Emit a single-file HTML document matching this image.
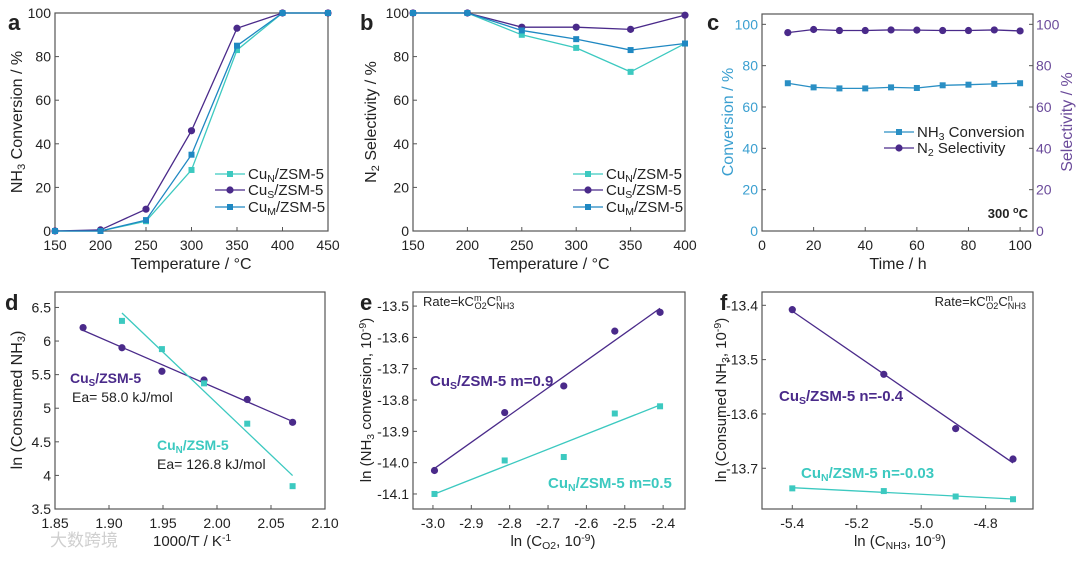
<!DOCTYPE html>
<html><head><meta charset="utf-8"><style>
body{margin:0;background:#fff;}
svg{display:block;font-family:"Liberation Sans","Noto Sans CJK SC",sans-serif;}
</style></head><body>
<svg id="fig" width="1080" height="561" viewBox="0 0 1080 561"></svg>
<script>
// ---- data ----
const aTemps=[150,200,250,300,350,400,450];
const aCuN=[0,0,4.5,28,83,100,100];
const aCuS=[0,0.5,10,46,93,100,100];
const aCuM=[0,0,5,35,85,100,100];
const bTemps=[150,200,250,300,350,400];
const bCuN=[100,100,90,84,73,86];
const bCuS=[100,100,93.5,93.5,92.5,99];
const bCuM=[100,100,92,88,83,86];
const cTime=[10,20,30,40,50,60,70,80,90,100];
const cConv=[71.5,69.5,69,69,69.5,69.2,70.5,70.8,71.2,71.5];
const cSel=[96,97.5,97,97,97.3,97.2,97,97,97.3,96.8];
const dSx=[1.876,1.912,1.949,1.988,2.028,2.070];
const dSy=[6.2,5.9,5.55,5.42,5.13,4.79];
const dNx=[1.912,1.949,1.988,2.028,2.070];
const dNy=[6.3,5.88,5.37,4.77,3.84];
const eX=[-2.996,-2.813,-2.659,-2.526,-2.408];
const eS=[-14.025,-13.84,-13.755,-13.58,-13.52];
const eN=[-14.10,-13.993,-13.982,-13.843,-13.82];
const fX=[-5.4,-5.116,-4.893,-4.715];
const fS=[-13.408,-13.527,-13.627,-13.683];
const fN=[-13.737,-13.742,-13.752,-13.757];

const NS="http://www.w3.org/2000/svg";
const svg=document.getElementById('fig');
const PUR="#4a2a8a",CY="#3cc9c0",BL="#1f88c2";
function el(tag,attrs,parent){const e=document.createElementNS(NS,tag);for(const k in attrs)e.setAttribute(k,attrs[k]);(parent||svg).appendChild(e);return e;}
function txt(x,y,html,opt,parent){opt=opt||{};const t=el('text',{x:x,y:y,'font-size':opt.size||13,fill:opt.fill||'#222','text-anchor':opt.anchor||'start','font-weight':opt.bold?'bold':'normal'},parent);if(opt.rot)t.setAttribute('transform','rotate(-90 '+x+' '+y+')');t.innerHTML=html;return t;}
function sub(s){return '<tspan font-size="70%" baseline-shift="-3">'+s+'</tspan>';}
function sup(s){return '<tspan font-size="70%" baseline-shift="5">'+s+'</tspan>';}
function rate(){return 'Rate=kC<tspan font-size="70%" baseline-shift="5">m</tspan><tspan font-size="70%" dx="-7" baseline-shift="-3">O2</tspan>C<tspan font-size="70%" baseline-shift="5">n</tspan><tspan font-size="70%" dx="-5" baseline-shift="-3">NH3</tspan>';}
function axes(c){c.sx=v=>c.L+(v-c.x0)/(c.x1-c.x0)*(c.R-c.L);c.sy=v=>c.B-(v-c.y0)/(c.y1-c.y0)*(c.B-c.T);return c;}
function frame(c,name){const g=el('g',{});
 el('rect',{x:c.L,y:c.T,width:c.R-c.L,height:c.B-c.T,fill:'none',stroke:'#555','stroke-width':1.2},g);
 c.xt.forEach(v=>{const x=c.sx(v);el('line',{x1:x,x2:x,y1:c.B,y2:c.B-4,stroke:'#555'},g);txt(x,c.B+19,c.xf?c.xf(v):v,{anchor:'middle',size:14},g);});
 c.yt.forEach(v=>{const y=c.sy(v);el('line',{x1:c.L,x2:c.L+4,y1:y,y2:y,stroke:'#555'},g);txt(c.L-4,y+5,c.yf?c.yf(v):v,{anchor:'end',size:14,fill:c.ycol||'#222'},g);});
 return g;}
function series(c,xs,ys,col,mk,name,line){const g=el('g',{});
 if(line!==false)el('polyline',{points:xs.map((x,i)=>c.sx(x)+','+c.sy(ys[i])).join(' '),fill:'none',stroke:col,'stroke-width':1.3},g);
 xs.forEach((x,i)=>{const px=c.sx(x),py=c.sy(ys[i]);let m;if(mk==='c')m=el('circle',{cx:px,cy:py,r:3.6,fill:col},g);else m=el('rect',{x:px-3,y:py-3,width:6,height:6,fill:col},g);});return g;}
function fit(c,xs,ys,col,name){const n=xs.length,mx=xs.reduce((a,b)=>a+b)/n,my=ys.reduce((a,b)=>a+b)/n;let sxy=0,sxx=0;xs.forEach((x,i)=>{sxy+=(x-mx)*(ys[i]-my);sxx+=(x-mx)*(x-mx);});const k=sxy/sxx,b=my-k*mx;const x0=Math.min(...xs),x1=Math.max(...xs);const l=el('line',{x1:c.sx(x0),y1:c.sy(k*x0+b),x2:c.sx(x1),y2:c.sy(k*x1+b),stroke:col,'stroke-width':1.3});}
function legend(x,y,col,mk,label,name){const g=el('g',{});el('line',{x1:x,x2:x+30,y1:y,y2:y,stroke:col,'stroke-width':1.3},g);if(mk==='c')el('circle',{cx:x+15,cy:y,r:3.6,fill:col},g);else el('rect',{x:x+12,y:y-3,width:6,height:6,fill:col},g);txt(x+33,y+5,label,{size:15},g);}

// panel a
const A=axes({L:55,R:328,T:13,B:231,x0:150,x1:450,y0:0,y1:100,xt:aTemps,yt:[0,20,40,60,80,100]});
frame(A,'panel-a-axes');
series(A,aTemps,aCuN,CY,'s','a-cun-series');series(A,aTemps,aCuS,PUR,'c','a-cus-series');series(A,aTemps,aCuM,BL,'s','a-cum-series');
legend(215,174,CY,'s','Cu'+sub('N')+'/ZSM-5','a-legend-cun');legend(215,190,PUR,'c','Cu'+sub('S')+'/ZSM-5','a-legend-cus');legend(215,207,BL,'s','Cu'+sub('M')+'/ZSM-5','a-legend-cum');
txt(191,269,'Temperature / °C',{anchor:'middle',size:16});
txt(22,122,'NH'+sub('3')+' Conversion / %',{anchor:'middle',size:16,rot:1});
txt(8,30,'a',{size:22,bold:1});

// panel b
const Bp=axes({L:413,R:685,T:13,B:231,x0:150,x1:400,y0:0,y1:100,xt:bTemps,yt:[0,20,40,60,80,100]});
frame(Bp,'panel-b-axes');
series(Bp,bTemps,bCuN,CY,'s','b-cun-series');series(Bp,bTemps,bCuS,PUR,'c','b-cus-series');series(Bp,bTemps,bCuM,BL,'s','b-cum-series');
legend(573,174,CY,'s','Cu'+sub('N')+'/ZSM-5','b-legend-cun');legend(573,190,PUR,'c','Cu'+sub('S')+'/ZSM-5','b-legend-cus');legend(573,207,BL,'s','Cu'+sub('M')+'/ZSM-5','b-legend-cum');
txt(549,269,'Temperature / °C',{anchor:'middle',size:16});
txt(376,122,'N'+sub('2')+' Selectivity / %',{anchor:'middle',size:16,rot:1});
txt(360,30,'b',{size:22,bold:1});

// panel c
const C=axes({L:762,R:1033,T:14,B:231,x0:0,x1:105,y0:0,y1:105,xt:[0,20,40,60,80,100],yt:[0,20,40,60,80,100],ycol:'#3a9fd0'});
frame(C,'panel-c-axes');
[0,20,40,60,80,100].forEach(v=>{const y=C.sy(v);el('line',{x1:C.R,x2:C.R-4,y1:y,y2:y,stroke:'#555'});txt(C.R+3,y+5,v,{size:14,fill:'#6a4a9a'});});
series(C,cTime,cConv,'#2a8fc4','s','c-conversion-series');series(C,cTime,cSel,PUR,'c','c-selectivity-series');
legend(884,132,'#2a8fc4','s','NH'+sub('3')+' Conversion','c-legend-conversion');legend(884,148,PUR,'c','N'+sub('2')+' Selectivity','c-legend-selectivity');
txt(1028,218,'300 '+sup('o')+'C',{anchor:'end',size:13,bold:1});
txt(898,269,'Time / h',{anchor:'middle',size:16});
txt(733,122,'Conversion / %',{anchor:'middle',size:16,rot:1,fill:'#3a9fd0'});
txt(1072,122,'Selectivity / %',{anchor:'middle',size:16,rot:1,fill:'#6a4a9a'});
txt(707,30,'c',{size:22,bold:1});

// panel d
const D=axes({L:55,R:325,T:292,B:509,x0:1.85,x1:2.1,y0:3.5,y1:6.73,xt:[1.85,1.9,1.95,2.0,2.05,2.1],yt:[3.5,4,4.5,5,5.5,6,6.5],xf:v=>v.toFixed(2)});
frame(D,'panel-d-axes');
fit(D,dSx,dSy,PUR,'d-cus-fit');fit(D,dNx,dNy,CY,'d-cun-fit');
series(D,dSx,dSy,PUR,'c','d-cus-points',false);series(D,dNx,dNy,CY,'s','d-cun-points',false);
txt(70,383,'Cu'+sub('S')+'/ZSM-5',{size:14,bold:1,fill:PUR});txt(72,402,'Ea= 58.0 kJ/mol',{size:14});
txt(157,450,'Cu'+sub('N')+'/ZSM-5',{size:14,bold:1,fill:CY});txt(157,469,'Ea= 126.8 kJ/mol',{size:14});
txt(153,546,'1000/T / K'+sup('-1'),{size:15});
txt(50,546,'大数跨境',{size:17,fill:'#cfcfcf'});
txt(22,400,'ln (Consumed NH'+sub('3')+')',{anchor:'middle',size:16,rot:1});
txt(5,310,'d',{size:22,bold:1});

// panel e
const E=axes({L:413,R:685,T:292,B:509,x0:-3.052,x1:-2.343,y0:-14.148,y1:-13.455,xt:[-3.0,-2.9,-2.8,-2.7,-2.6,-2.5,-2.4],yt:[-14.1,-14.0,-13.9,-13.8,-13.7,-13.6,-13.5],xf:v=>v.toFixed(1),yf:v=>v.toFixed(1)});
frame(E,'panel-e-axes');
fit(E,eX,eS,PUR,'e-cus-fit');fit(E,eX,eN,CY,'e-cun-fit');
series(E,eX,eS,PUR,'c','e-cus-points',false);series(E,eX,eN,CY,'s','e-cun-points',false);
txt(423,306,rate(),{size:13});
txt(430,386,'Cu'+sub('S')+'/ZSM-5 m=0.9',{size:15,bold:1,fill:PUR});
txt(548,488,'Cu'+sub('N')+'/ZSM-5 m=0.5',{size:15,bold:1,fill:CY});
txt(553,546,'ln (C'+sub('O2')+', 10'+sup('-9')+')',{anchor:'middle',size:15});
txt(371,400,'ln (NH'+sub('3')+' conversion, 10'+sup('-9')+')',{anchor:'middle',size:15,rot:1});
txt(360,310,'e',{size:22,bold:1});

// panel f
const F=axes({L:762,R:1033,T:292,B:509,x0:-5.494,x1:-4.653,y0:-13.775,y1:-13.3755,xt:[-5.4,-5.2,-5.0,-4.8],yt:[-13.7,-13.6,-13.5,-13.4],xf:v=>v.toFixed(1),yf:v=>v.toFixed(1)});
frame(F,'panel-f-axes');
fit(F,fX,fS,PUR,'f-cus-fit');fit(F,fX,fN,CY,'f-cun-fit');
series(F,fX,fS,PUR,'c','f-cus-points',false);series(F,fX,fN,CY,'s','f-cun-points',false);
txt(1026,306,rate(),{size:13,anchor:'end'});
txt(779,401,'Cu'+sub('S')+'/ZSM-5 n=-0.4',{size:15,bold:1,fill:PUR});
txt(801,478,'Cu'+sub('N')+'/ZSM-5 n=-0.03',{size:15,bold:1,fill:CY});
txt(900,546,'ln (C'+sub('NH3')+', 10'+sup('-9')+')',{anchor:'middle',size:15});
txt(726,400,'ln (Consumed NH'+sub('3')+', 10'+sup('-9')+')',{anchor:'middle',size:15,rot:1});
txt(720,310,'f',{size:22,bold:1});
</script>
</body></html>
